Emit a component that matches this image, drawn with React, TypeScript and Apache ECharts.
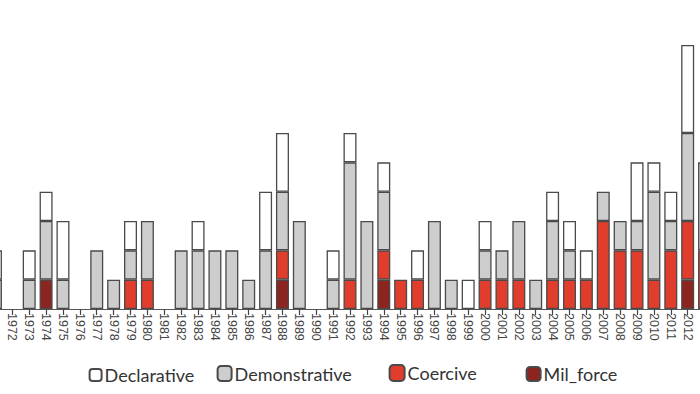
import React, { useEffect, useRef } from "react";
import * as echarts from "echarts";

const years: string[] = [];
for (let y = 1971; y <= 2013; y++) years.push(String(y));

// values per year, 1971..2013
const declarative = [1,0,1,1,2,0,0,0,1,0,0,0,1,0,0,0,2,2,0,0,1,1,0,1,0,1,0,0,1,1,0,0,0,1,1,1,0,0,2,1,1,3,0];
const demonstrative = [1,0,1,2,1,0,2,1,1,2,0,2,2,2,2,1,2,2,3,0,1,4,3,2,0,0,3,1,0,1,1,2,1,2,1,0,1,1,1,3,1,3,3];
const coercive = [0,0,0,0,0,0,0,0,1,1,0,0,0,0,0,0,0,1,0,0,0,1,0,1,1,1,0,0,0,1,1,1,0,1,1,1,3,2,2,1,2,2,2];
const milForce = [0,0,0,1,0,0,0,0,0,0,0,0,0,0,0,0,0,1,0,0,0,0,0,1,0,0,0,0,0,0,0,0,0,0,0,0,0,0,0,0,0,1,0];

const seriesNames = ["Mil_force", "Coercive", "Demonstrative", "Declarative"];
const seriesColors = ["#8c2520", "#e03d2c", "#cdcdcd", "#ffffff"];

const SHIFT = 12.6;
const WIDTH = 700 + 12.6 + 13.6;

export default function App() {
  const ref = useRef<HTMLDivElement>(null);
  useEffect(() => {
    if (!ref.current) return;
    const chart = echarts.init(ref.current, null, { renderer: "svg" });
    const datasets = [milForce, coercive, demonstrative, declarative];
    const legendPos = [
      { name: "Declarative", left: 89, w: 12, h: 12 },
      { name: "Demonstrative", left: 217, w: 14, h: 15 },
      { name: "Coercive", left: 389, w: 15, h: 16 },
      { name: "Mil_force", left: 526, w: 14, h: 14 },
    ];
    const lastIdx = years.length - 1;
    chart.setOption({
      animation: false,
      backgroundColor: "#ffffff",
      grid: { left: 0, right: 0, top: 15.7, bottom: 85, containLabel: false },
      legend: legendPos.map((l) => ({
        data: [l.name],
        left: l.left + SHIFT,
        top: 372 - l.h / 2,
        itemWidth: l.w,
        itemHeight: l.h,
        selectedMode: false,
        padding: 0,
        textStyle: { fontFamily: "Lato", fontSize: 18, color: "#333", padding: [0, 0, 0, -2] },
      })),
      xAxis: {
        type: "category",
        data: years,
        boundaryGap: true,
        axisLine: { show: true, lineStyle: { color: "#555", width: 1 } },
        axisTick: { show: true, alignWithLabel: true, length: 6, lineStyle: { color: "#444", width: 1.2 } },
        axisLabel: {
          interval: (idx: number) => idx !== 0 && idx !== lastIdx,
          rotate: -90,
          margin: 4,
          fontSize: 12.5,
          fontFamily: "Liberation Sans",
          color: "#444",
        },
      },
      yAxis: {
        type: "value",
        min: 0,
        max: 10,
        show: false,
        splitLine: { show: false },
      },
      series: seriesNames.map((name, i) => ({
        name,
        type: "bar",
        stack: "total",
        barWidth: 13,
        data: datasets[i].map((v) => (v === 0 ? null : v)),
        itemStyle: { color: seriesColors[i], borderColor: "#4a4a4a", borderWidth: 1.3 },
      })),
    });
    return () => chart.dispose();
  }, []);
  return (
    <div style={{ position: "absolute", left: 0, top: 0, width: 700, height: 394, overflow: "hidden", background: "#fff" }}>
      <div
        ref={ref}
        style={{ position: "absolute", left: -SHIFT, top: 0, width: WIDTH, height: 394 }}
      />
    </div>
  );
}
